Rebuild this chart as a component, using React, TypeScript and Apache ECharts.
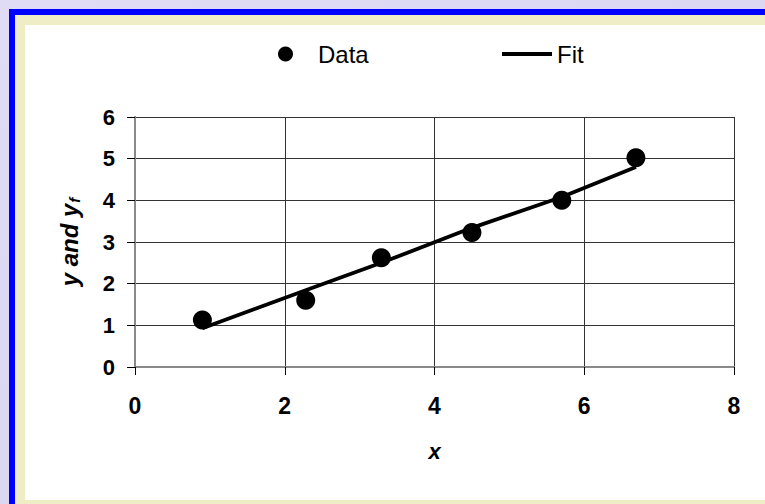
import React, { useEffect, useRef } from "react";
import * as echarts from "echarts";

const xValues = [0.9, 2.28, 3.29, 4.5, 5.7, 6.69];
const yValues = [1.13, 1.6, 2.62, 3.23, 4.0, 5.02];
const fitValues = [0.93, 1.84, 2.5, 3.34, 4.08, 4.8];
const seriesNames = ["Data", "Fit"];

const FONT = "Arial, 'Liberation Sans', sans-serif";

export default function App() {
  const ref = useRef<HTMLDivElement>(null);
  useEffect(() => {
    if (!ref.current) return;
    const chart = echarts.init(ref.current, undefined, { renderer: "svg" });
    const dataPts = xValues.map((x, i) => [x, yValues[i]]);
    const fitPts = xValues.map((x, i) => [x, fitValues[i]]);
    chart.setOption({
      animation: false,
      backgroundColor: {
        type: "linear",
        x: 0,
        y: 0,
        x2: 1,
        y2: 1,
        colorStops: [
          { offset: 0, color: "#e0dcf5" },
          { offset: 1, color: "#d6d2f0" },
        ],
      },
      graphic: [
        { type: "rect", z: -10, silent: true, shape: { x: 9, y: 9, width: 800, height: 600 }, style: { fill: "#0000ff" } },
        { type: "rect", z: -9, silent: true, shape: { x: 15, y: 15, width: 800, height: 600 }, style: { fill: "#efedc6" } },
        { type: "rect", z: -8, silent: true, shape: { x: 25, y: 25, width: 800, height: 475 }, style: { fill: "#ffffff" } },
      ],
      legend: [
        {
          data: [seriesNames[0]],
          left: 278,
          top: 42,
          padding: 0,
          itemWidth: 15,
          itemHeight: 15,
          icon: "circle",
          itemStyle: { color: "#000", opacity: 1 },
          textStyle: { fontSize: 24, fontFamily: FONT, color: "#000", padding: [0, 0, 0, 20] },
        },
        {
          data: [seriesNames[1]],
          left: 502,
          top: 42,
          padding: 0,
          itemWidth: 50,
          itemHeight: 4,
          icon: "rect",
          textStyle: { fontSize: 24, fontFamily: FONT, color: "#000" },
        },
      ],
      grid: { left: 135, right: 31, top: 117, bottom: 137, containLabel: false },
      xAxis: [
        {
          type: "value",
          min: 0,
          max: 8,
          interval: 2,
          name: "x",
          nameLocation: "middle",
          nameGap: 73,
          nameTextStyle: { fontSize: 22, fontWeight: "bold", fontStyle: "italic", fontFamily: FONT, color: "#000" },
          axisLine: { show: true, onZero: false, lineStyle: { color: "#000", width: 1 } },
          axisTick: { show: true, inside: false, length: 8, lineStyle: { color: "#000" } },
          axisLabel: { margin: 27, fontSize: 23, fontWeight: "bold", fontFamily: FONT, color: "#000" },
          splitLine: { show: true, lineStyle: { color: "#333", width: 1 } },
        },
        {
          type: "value",
          position: "top",
          min: 0,
          max: 8,
          interval: 2,
          axisLine: { show: true, lineStyle: { color: "#8a8a8a", width: 2 } },
          axisTick: { show: false },
          axisLabel: { show: false },
          splitLine: { show: false },
        },
      ],
      yAxis: [
        {
          type: "value",
          min: 0,
          max: 6,
          interval: 1,
          name: "{a|y and y}{b|f}",
          nameLocation: "middle",
          nameGap: 53,
          nameRotate: 90,
          nameTextStyle: {
            rich: {
              a: { fontSize: 24, fontWeight: "bold", fontStyle: "italic", fontFamily: FONT, color: "#000" },
              b: { fontSize: 15, fontWeight: "bold", fontStyle: "italic", fontFamily: FONT, color: "#000", padding: [10, 0, 0, 1] },
            },
          },
          axisLine: { show: true, onZero: false, lineStyle: { color: "#000", width: 1 } },
          axisTick: { show: true, inside: false, length: 8, lineStyle: { color: "#000" } },
          axisLabel: { margin: 20, fontSize: 22, fontWeight: "bold", fontFamily: FONT, color: "#000" },
          splitLine: { show: true, lineStyle: { color: "#333", width: 1 } },
        },
        {
          type: "value",
          position: "right",
          min: 0,
          max: 6,
          interval: 1,
          axisLine: { show: true, lineStyle: { color: "#8a8a8a", width: 2 } },
          axisTick: { show: false },
          axisLabel: { show: false },
          splitLine: { show: false },
        },
      ],
      series: [
        {
          name: seriesNames[0],
          type: "scatter",
          data: dataPts,
          symbol: "circle",
          symbolSize: 19,
          itemStyle: { color: "#000", opacity: 1 },
          z: 4,
        },
        {
          name: seriesNames[1],
          type: "line",
          data: fitPts,
          showSymbol: false,
          symbol: "none",
          lineStyle: { color: "#000", width: 3.8 },
          itemStyle: { color: "#000" },
          z: 3,
        },
      ],
    });
    return () => chart.dispose();
  }, []);
  return (
    <div
      ref={ref}
      style={{ position: "fixed", left: 0, top: 0, width: 765, height: 504 }}
    />
  );
}
